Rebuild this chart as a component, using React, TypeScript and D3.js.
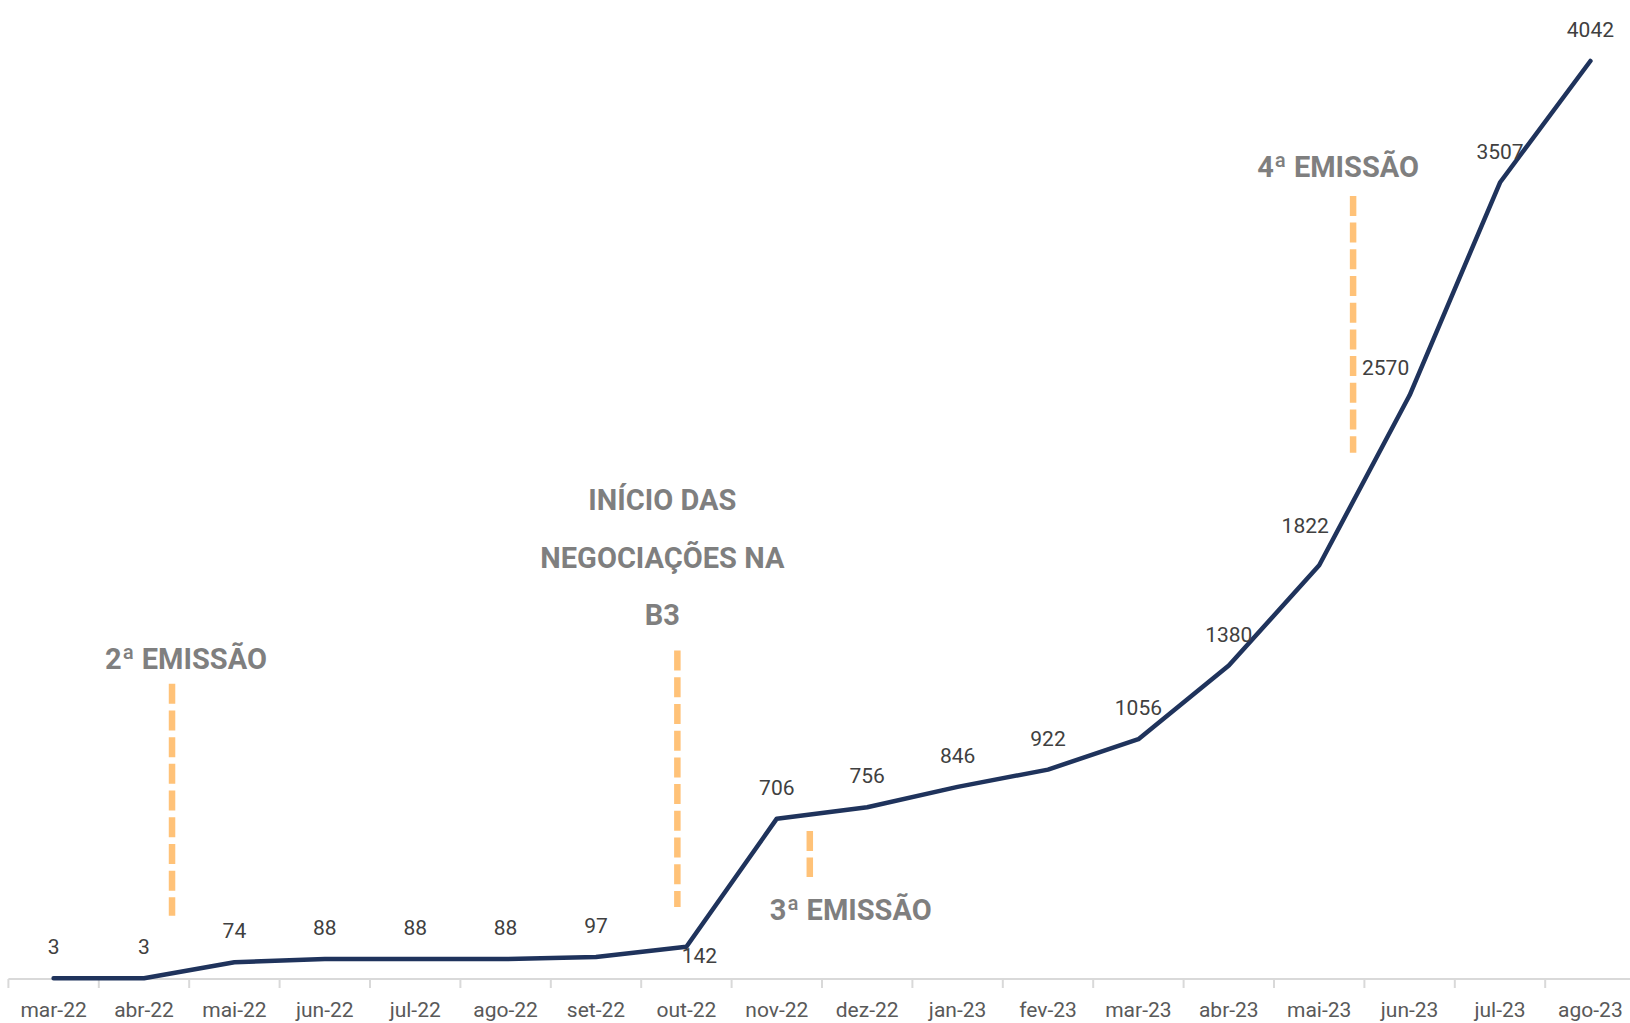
import * as d3 from 'd3';

const months = [
  'mar-22', 'abr-22', 'mai-22', 'jun-22', 'jul-22', 'ago-22', 'set-22', 'out-22', 'nov-22',
  'dez-22', 'jan-23', 'fev-23', 'mar-23', 'abr-23', 'mai-23', 'jun-23', 'jul-23', 'ago-23',
];
const investors = [3, 3, 74, 88, 88, 88, 97, 142, 706, 756, 846, 922, 1056, 1380, 1822, 2570, 3507, 4042];

// label nudges (px) for the few labels that don't sit right above their point
const labelNudge: Record<string, [number, number]> = {
  'out-22': [13, 40],
  'mai-23': [-14, -8],
  'jun-23': [-24, 4],
};

const W = 1630;
const H = 1023;
const axisY = 979;

export default function App() {
  const x = d3.scaleBand<string>().domain(months).range([8.4, 8.4 + 90.4 * months.length]);
  const y = d3.scaleLinear().domain([0, 4042]).range([axisY, 61]);
  const cx = (m: string) => (x(m) ?? 0) + x.bandwidth() / 2;

  const line = d3.line<number>()
    .x((_, i) => cx(months[i]))
    .y(d => y(d));

  // event markers: category + fraction of a band, dashed line span in value units
  const events = [
    { at: 'abr-22', off: 0.31, from: 1300, to: 278, dx: 14, lines: ['2ª EMISSÃO'], textY: 669 },
    { at: 'set-22', off: 0.9, from: 1446, to: 317, dx: -15, lines: ['INÍCIO DAS', 'NEGOCIAÇÕES NA', 'B3'], textY: 510 },
    { at: 'nov-22', off: 0.365, from: 652, to: 449, dx: 41, lines: ['3ª EMISSÃO'], textY: 920 },
    { at: 'mai-23', off: 0.375, from: 3448, to: 2317, dx: -15, lines: ['4ª EMISSÃO'], textY: 177 },
  ];

  const ticks = months.map(m => x(m) ?? 0).concat([x.range()[1]]);

  return (
    <svg width={W} height={H} style={{ position: 'absolute', left: 0, top: 0, background: '#fff' }}
      fontFamily="Roboto, 'DejaVu Sans', sans-serif">
      {/* axis */}
      <line x1={8.4} x2={W} y1={axisY} y2={axisY} stroke="#d9d9d9" strokeWidth={2} />
      {ticks.map((t, i) => (
        <line key={i} x1={t} x2={t} y1={axisY} y2={axisY + 9} stroke="#d9d9d9" strokeWidth={2} />
      ))}
      {months.map(m => (
        <text key={m} x={cx(m)} y={1017} textAnchor="middle" fontSize={21} fill="#595959">{m}</text>
      ))}

      {/* event markers */}
      {events.map(e => {
        const ex = cx(e.at) + e.off * x.bandwidth();
        return (
          <g key={e.at}>
            <line x1={ex} x2={ex} y1={y(e.from)} y2={y(e.to)} stroke="#ffc278" strokeWidth={6.5}
              strokeDasharray="20 6.7" />
            {e.lines.map((t, i) => (
              <text key={i} x={ex + e.dx} y={e.textY + i * 57.5} textAnchor="middle" fontSize={29}
                fontWeight={700} fill="#7f7f7f">{t}</text>
            ))}
          </g>
        );
      })}

      {/* series */}
      <path d={line(investors) ?? ''} fill="none" stroke="#1f335c" strokeWidth={4.5}
        strokeLinejoin="round" strokeLinecap="round" />

      {investors.map((v, i) => {
        const m = months[i];
        const [ndx, ndy] = labelNudge[m] ?? [0, 0];
        return (
          <text key={m} x={cx(m) + ndx} y={y(v) - 24 + ndy} textAnchor="middle" fontSize={21} fill="#404040">
            {v}
          </text>
        );
      })}
    </svg>
  );
}
